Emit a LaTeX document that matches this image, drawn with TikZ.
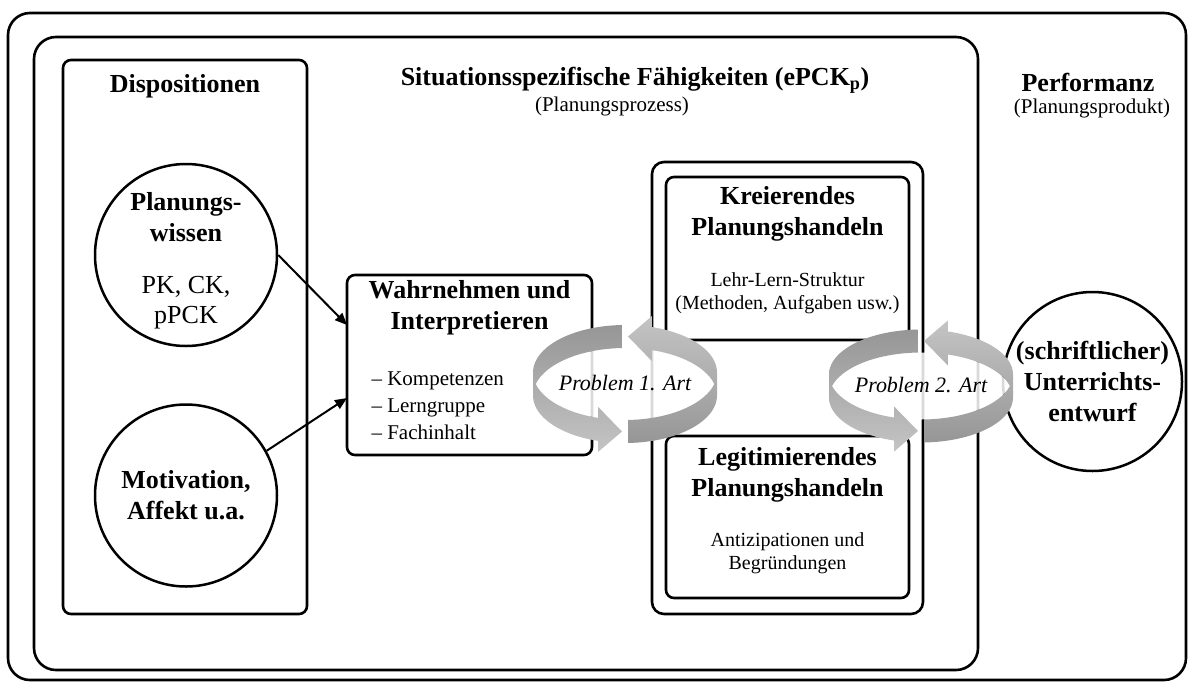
\documentclass[tikz,border=0pt]{standalone}
\usepackage{fontspec}
\setmainfont{Liberation Serif}
\usetikzlibrary{shapes,arrows,arrows.meta,positioning}
\definecolor{gdark}{RGB}{150,150,150}
\definecolor{glight}{RGB}{196,196,196}

\begin{document}
\begin{tikzpicture}[x=1pt,y=-1pt]

  \tikzset{frame node/.style={rectangle, draw, line width=2.6pt,
  		rounded corners=22pt}, }
  \tikzset{box node/.style={rectangle, draw, line width=2.6pt,
  		rounded corners=8pt}, }
  \tikzset{circ node/.style={circle, draw, line width=2.5pt,
  		minimum size=182pt, inner sep=0pt}, }
  \tikzset{head node/.style={font=\fontsize{26}{31}\selectfont\bfseries, align=center}, }
  \tikzset{body node/.style={font=\fontsize{20}{23}\selectfont, align=center}, }
  \tikzset{linea/.style={-{Triangle[length=12pt,width=10pt]}, line width=2pt}, }

\useasboundingbox (0,0) rectangle (1194,689);

% Rahmen
\node[frame node, minimum width=1178pt, minimum height=667pt] (r) at (597,346.5) {};
\node[frame node, minimum width=944pt, minimum height=633pt] (s) at (506,353.5) {};
\node[box node, minimum width=244pt, minimum height=554pt] (a) at (185,337) {};
\node[box node, rounded corners=12pt, minimum width=271pt, minimum height=452pt] (k) at (787.5,388) {};
\node[box node, minimum width=243pt, minimum height=163pt] (e) at (787.5,258.5) {};
\node[box node, minimum width=243pt, minimum height=162pt] (f) at (787.5,517) {};
\node[box node, minimum width=245pt, minimum height=180pt] (d) at (469.5,365) {};

% Ueberschriften
\node[head node] (t1) at (185,86) {Dispositionen};
\node[head node] (t2) at (635,80) {Situationsspezifische Fähigkeiten (ePCK\textsubscript{p})};
\node[body node, font=\fontsize{21}{25}\selectfont] (t3) at (612,106) {(Planungsprozess)};
\node[head node] (h1) at (1088,82) {Performanz};
\node[body node, font=\fontsize{21}{25}\selectfont] (h2) at (1092,108) {(Planungsprodukt)};

% Kreise
\node[circ node] (b) at (186,255) {};
\node[head node] (b1) at (186,217) {Planungs-\\wissen};
\node[body node, font=\fontsize{26}{30}\selectfont] (b2) at (186,303) {PK, CK,\\pPCK};
\node[circ node] (c) [below=56pt of b] {};
\node[head node] (c1) at (c) {Motivation,\\Affekt u.a.};
\node[circ node, minimum size=179pt] (g) at (1092.5,381.5) {};
\node[head node] (g1) at (g) {(schriftlicher)\\Unterrichts-\\entwurf};

% Kaesten
\node[head node] (d1) at (469.5,307.5) {Wahrnehmen und\\Interpretieren};
\node[body node, font=\fontsize{21}{27}\selectfont, align=left, anchor=west] (d2) at (368,406)
  {– Kompetenzen\\– Lerngruppe\\– Fachinhalt};
\node[head node] (e1) at (787.5,213.5) {Kreierendes\\Planungshandeln};
\node[body node] (e2) at (787.5,293.5) {Lehr-Lern-Struktur\\(Methoden, Aufgaben usw.)};
\node[head node] (f1) at (787.5,475) {Legitimierendes\\Planungshandeln};
\node[body node] (f2) at (787.5,553.5) {Antizipationen und\\Begründungen};

\coordinate (w1) at (347,325);
\coordinate (w2) at (347,398);
\foreach \x/\y in {b.east/w1, c.29/w2}
  \path[linea] (\x) edge (\y);

% Kreispfeile
\foreach \cx/\cy/\ry/\nr in {625/384/47.5/1, 921/386/45/2}{
  \begin{scope}
    \clip ({\cx},{\cy-11.5}) ellipse [x radius=92, y radius=\ry];
    \fill[white, fill opacity=0.85] ({\cx},{\cy+11.5}) ellipse [x radius=92, y radius=\ry];
  \end{scope}
  \shade[top color=gdark, bottom color=glight]
    plot[variable=\tw, domain=268:180, samples=30] ({\cx+92*cos(\tw)},{\cy-11.5+\ry*sin(\tw)})
    -- plot[variable=\tw, domain=180:107, samples=25] ({\cx+92*cos(\tw)},{\cy+11.5+\ry*sin(\tw)})
    -- ++(0,11) -- ({\cx-3},{\cy+\ry})
    -- ({\cx+92*cos(107)},{\cy-11.5+\ry*sin(107)-11})
    -- plot[variable=\tw, domain=107:166, samples=20] ({\cx+92*cos(\tw)},{\cy-11.5+\ry*sin(\tw)})
    -- plot[variable=\tw, domain=194:268, samples=25] ({\cx+92*cos(\tw)},{\cy+11.5+\ry*sin(\tw)})
    -- cycle;
  \shade[top color=glight, bottom color=gdark]
    plot[variable=\tw, domain=88:0, samples=30] ({\cx+92*cos(\tw)},{\cy+11.5+\ry*sin(\tw)})
    -- plot[variable=\tw, domain=0:-73, samples=25] ({\cx+92*cos(\tw)},{\cy-11.5+\ry*sin(\tw)})
    -- ++(0,-11) -- ({\cx+3},{\cy-\ry})
    -- ({\cx+92*cos(-73)},{\cy+11.5+\ry*sin(-73)+11})
    -- plot[variable=\tw, domain=-73:-14, samples=20] ({\cx+92*cos(\tw)},{\cy+11.5+\ry*sin(\tw)})
    -- plot[variable=\tw, domain=14:88, samples=25] ({\cx+92*cos(\tw)},{\cy-11.5+\ry*sin(\tw)})
    -- cycle;
  \node[body node, font=\fontsize{22}{26}\selectfont\itshape] (p\nr) at ({\cx},{\cy-1}) {Problem \nr. Art};
}

\end{tikzpicture}
\end{document}
